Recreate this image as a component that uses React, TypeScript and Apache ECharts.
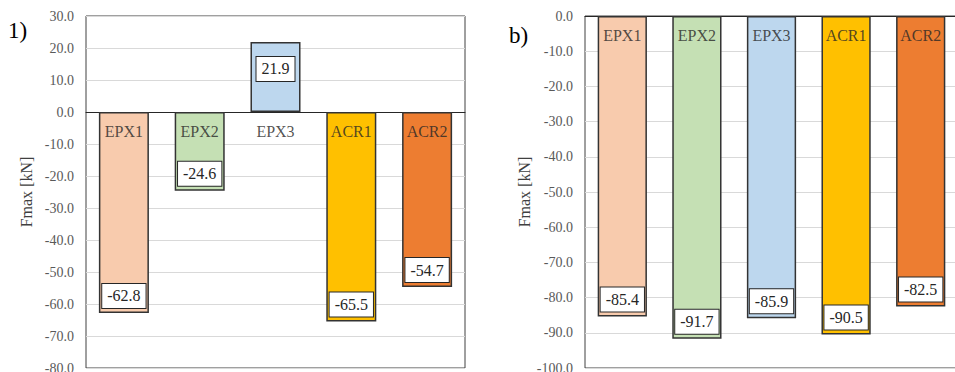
import React, { useEffect, useRef } from "react";
import * as echarts from "echarts";

const categories = ["EPX1", "EPX2", "EPX3", "ACR1", "ACR2"];
const valuesA = [-62.8, -24.6, 21.9, -65.5, -54.7];
const valuesB = [-85.4, -91.7, -85.9, -90.5, -82.5];
const barColors = ["#F8CBAD", "#C5E0B4", "#BDD7EE", "#FFC000", "#ED7D31"];
const titleA = "1)";
const titleB = "b)";
const yAxisName = "Fmax [kN]";

const FONT = "Liberation Serif";

function makeData(values: number[]) {
  return values.map((v, i) => ({
    value: v,
    itemStyle: { color: barColors[i] },
    label: {
      position: v >= 0 ? "insideTop" : "insideBottom",
      distance: v >= 0 ? 15 : 5,
    },
  }));
}

export default function App() {
  const ref = useRef<HTMLDivElement>(null);
  useEffect(() => {
    if (!ref.current) return;
    const chart = echarts.init(ref.current, null, { renderer: "svg" });
    const xAxisCommon = {
      type: "category",
      data: categories,
      axisTick: { show: false },
      axisLine: { onZero: true, lineStyle: { color: "#262626", width: 1 } },
      axisLabel: { show: false },
    };
    const yAxisCommon = {
      type: "value",
      interval: 10,
      name: yAxisName,
      nameLocation: "middle",
      nameRotate: 90,
      nameGap: 52,
      nameTextStyle: { color: "#404040", fontFamily: FONT, fontSize: 16 },
      axisLine: { show: false },
      axisTick: { show: false },
      splitLine: { lineStyle: { color: "#d9d9d9", width: 1 } },
      axisLabel: {
        color: "#595959",
        fontFamily: FONT,
        fontSize: 14,
        margin: 12,
        showMinLabel: true,
        showMaxLabel: true,
        formatter: (v: number) => v.toFixed(1),
      },
    };
    const seriesCommon = {
      type: "bar",
      barCategoryGap: "34%",
      itemStyle: { borderColor: "#333333", borderWidth: 1.5 },
      label: {
        show: true,
        formatter: (p: any) => Number(p.value).toFixed(1),
        color: "#262626",
        fontFamily: FONT,
        fontSize: 16,
        lineHeight: 16,
        backgroundColor: "#ffffff",
        borderColor: "#262626",
        borderWidth: 1,
        padding: [4, 5],
      },
    };
    const catLabelSeries = (idx: number) => ({
      type: "scatter",
      xAxisIndex: idx,
      yAxisIndex: idx,
      symbolSize: 0,
      silent: true,
      z: 5,
      data: categories.map((c) => [c, 0]),
      label: {
        show: true,
        position: "bottom",
        distance: 11,
        formatter: (p: any) => p.name || p.value[0],
        color: "#262626",
        fontFamily: FONT,
        fontSize: 16,
      },
    });
    chart.setOption({
      animation: false,
      backgroundColor: "#ffffff",
      grid: [
        { left: 86, top: 16, width: 379, height: 352, show: true, borderColor: "#404040", borderWidth: 1, outerBoundsMode: "none", containLabel: false },
        { left: 585, top: 16, width: 373, height: 352, show: true, borderColor: "#404040", borderWidth: 1, outerBoundsMode: "none", containLabel: false },
      ],
      xAxis: [
        { ...xAxisCommon, gridIndex: 0 },
        { ...xAxisCommon, gridIndex: 1 },
      ],
      yAxis: [
        { ...yAxisCommon, gridIndex: 0, min: -80, max: 30 },
        { ...yAxisCommon, gridIndex: 1, min: -100, max: 0 },
      ],
      series: [
        { ...seriesCommon, xAxisIndex: 0, yAxisIndex: 0, data: makeData(valuesA) },
        { ...seriesCommon, xAxisIndex: 1, yAxisIndex: 1, data: makeData(valuesB) },
        catLabelSeries(0),
        catLabelSeries(1),
      ],
      graphic: [
        {
          type: "text",
          left: 8,
          top: 19,
          style: { text: titleA, fill: "#000000", fontFamily: FONT, fontSize: 23 },
        },
        {
          type: "text",
          left: 509,
          top: 24,
          style: { text: titleB, fill: "#000000", fontFamily: FONT, fontSize: 23 },
        },
      ],
    });
    return () => chart.dispose();
  }, []);
  return (
    <div
      ref={ref}
      style={{ position: "fixed", left: 0, top: 0, width: 955, height: 372, background: "#fff" }}
    />
  );
}
